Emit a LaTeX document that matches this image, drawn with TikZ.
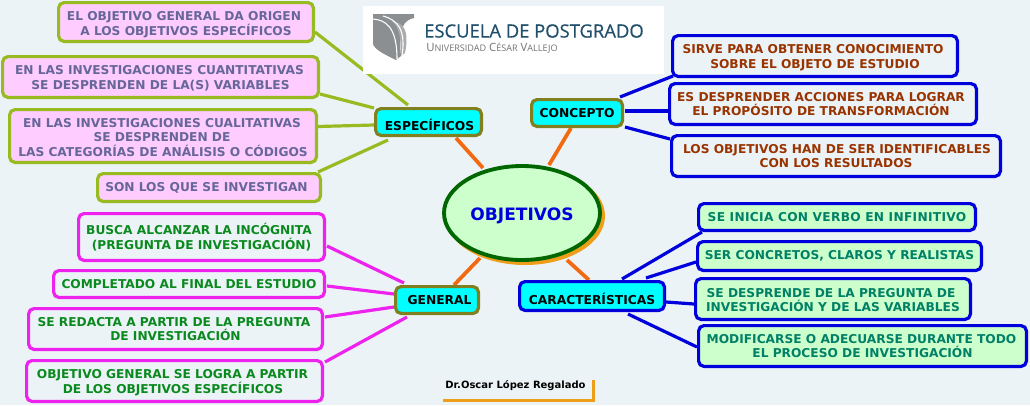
\documentclass[tikz,border=0pt]{standalone}
\usepackage{fontspec}
\setmainfont{DejaVu Sans}
\newfontfamily\logofont[FakeBold=0.5]{Open Sans}
\newfontfamily\logosub{Open Sans}
\usetikzlibrary{calc,shapes.geometric,backgrounds}
\definecolor{bgc}{HTML}{ECF3F6}
\definecolor{pinkf}{HTML}{FFCCFF}
\definecolor{limeb}{HTML}{99BB22}
\definecolor{purpt}{HTML}{666699}
\definecolor{blueb}{HTML}{0000DD}
\definecolor{brownt}{HTML}{993300}
\definecolor{greent}{HTML}{0A8A1E}
\definecolor{tealt}{HTML}{008066}
\definecolor{mintf}{HTML}{CCFFCC}
\definecolor{magb}{HTML}{EE22EE}
\definecolor{oliveb}{HTML}{808020}
\definecolor{hubc}{HTML}{00FFFF}
\definecolor{orangel}{HTML}{F26A10}
\definecolor{shadowo}{HTML}{EE9F1A}
\definecolor{darkg}{HTML}{006600}
\definecolor{logot}{HTML}{1F4F6A}
\definecolor{logog}{HTML}{8C8F92}
% shifts the line that follows by #1 px along x
\newcommand\shiftline[1]{\hspace*{\dimexpr #1pt*3/2\relax}}
% lowers the whole text of a node by #1 px (first line only)
\newcommand\downby[1]{\rule{0pt}{\dimexpr 6.7pt + #1pt*3/2\relax}}
\tikzset{
  wh/.style 2 args={minimum width=#1*0.75pt-2.4pt, minimum height=#2*0.75pt-2.4pt},
  leaf/.style={draw, line width=2.4pt, rounded corners=4pt, inner sep=0pt, outer sep=0pt,
    align=center, font=\fontsize{9.15pt}{11pt}\selectfont\bfseries},
  esp/.style={leaf, draw=limeb, fill=pinkf, text=purpt},
  con/.style={leaf, draw=blueb, fill=bgc, text=brownt},
  gen/.style={leaf, draw=magb, fill=bgc, text=greent},
  car/.style={leaf, draw=blueb, fill=mintf, text=tealt},
  hub/.style={leaf, fill=hubc, text=black, draw=oliveb, font=\fontsize{9.2pt}{11pt}\selectfont\bfseries},
  limeline/.style={draw=limeb, line width=2.4pt},
  blueline/.style={draw=blueb, line width=2.4pt},
  magline/.style={draw=magb, line width=2.4pt},
  orline/.style={draw=orangel, line width=2.8pt}
}
\begin{document}
\begin{tikzpicture}[x=0.75pt,y=-0.75pt]
\useasboundingbox (0,0) rectangle (1030,405);
\begin{scope}[on background layer]
  \fill[bgc] (0,0) rectangle (1030,405);
  \fill[shadowo] (525,216) ellipse [x radius=80, y radius=49];
\end{scope}

% centre
\node[ellipse, draw=darkg, fill=mintf, line width=2.9pt, minimum width=156*0.75pt, minimum height=94*0.75pt, inner sep=0pt, outer sep=0pt, text=blueb, font=\fontsize{12.8pt}{14pt}\selectfont\bfseries] (obj) at (522,213) {\rule{0pt}{13.8pt}OBJETIVOS};

% hubs
\node[hub, wh={109}{30}] (hesp) at (428.5,122) {\downby{4}\shiftline{1}ESPECÍFICOS};
\node[hub, wh={94}{30}] (hcon) at (577,113) {CONCEPTO};
\node[hub, wh={86}{30}] (hgen) at (437,300) {\shiftline{2.5}GENERAL};
\node[hub, draw=blueb, wh={148}{32}] (hcar) at (592,296) {\downby{4}CARACTERÍSTICAS};

% especificos
\node[esp, wh={258}{42}] (e1) at (186,22) {\downby{2.5}\shiftline{-2}EL OBJETIVO GENERAL DA ORIGEN\\A LOS OBJETIVOS ESPECÍFICOS};
\node[esp, wh={319}{44}] (e2) at (160.5,77) {\downby{1}\shiftline{-1}EN LAS INVESTIGACIONES CUANTITATIVAS\\SE DESPRENDEN DE LA(S) VARIABLES};
\node[esp, wh={310}{56}] (e3) at (163,136) {\downby{1.5}\shiftline{-1}EN LAS INVESTIGACIONES CUALITATIVAS\\\shiftline{-1}SE DESPRENDEN DE\\LAS CATEGORÍAS DE ANÁLISIS O CÓDIGOS};
\node[esp, wh={226}{31}] (e4) at (209,187.5) {\shiftline{-2.5}SON LOS QUE SE INVESTIGAN};

% concepto
\node[con, wh={288}{44}] (c1) at (815,56) {\downby{2}\shiftline{-2}SIRVE PARA OBTENER CONOCIMIENTO\\SOBRE EL OBJETO DE ESTUDIO};
\node[con, wh={310}{44}] (c2) at (823,104) {\shiftline{-2}ES DESPRENDER ACCIONES PARA LOGRAR\\\shiftline{-2}EL PROPÓSITO DE TRANSFORMACIÓN};
\node[con, wh={332}{44}] (c3) at (836,156) {\shiftline{1}LOS OBJETIVOS HAN DE SER IDENTIFICABLES\\CON LOS RESULTADOS};

% general
\node[gen, wh={249}{50}] (g1) at (201.5,237) {\downby{1}\shiftline{-2.5}BUSCA ALCANZAR LA INCÓGNITA\\(PREGUNTA DE INVESTIGACIÓN)};
\node[gen, wh={274}{30}] (g2) at (189,284) {COMPLETADO AL FINAL DEL ESTUDIO};
\node[gen, wh={297}{44}] (g3) at (175.5,329) {\shiftline{-1.5}SE REDACTA A PARTIR DE LA PREGUNTA\\DE INVESTIGACIÓN};
\node[gen, wh={299}{44}] (g4) at (174.5,381) {\downby{1.5}\shiftline{-2}OBJETIVO GENERAL SE LOGRA A PARTIR\\\shiftline{-1.5}DE LOS OBJETIVOS ESPECÍFICOS};

% caracteristicas
\node[car, wh={280}{30}] (r1) at (837,217) {\addfontfeature{LetterSpace=2.5}SE INICIA CON VERBO EN INFINITIVO};
\node[car, wh={287}{32}] (r2) at (839.5,256) {SER CONCRETOS, CLAROS Y REALISTAS};
\node[car, wh={278}{44}] (r3) at (833,299) {\downby{1}\shiftline{-2}SE DESPRENDE DE LA PREGUNTA DE\\INVESTIGACIÓN Y DE LAS VARIABLES};
\node[car, wh={331}{44}] (r4) at (862.5,346) {\shiftline{-1}MODIFICARSE O ADECUARSE DURANTE TODO\\EL PROCESO DE INVESTIGACIÓN};

% logo
\node[fill=white, minimum width=301*0.75pt, minimum height=68*0.75pt, inner sep=0pt, outer sep=0pt] (logo) at (513.5,40) {};
\fill[logog] (373,14) -- (414,14) -- (414,18) .. controls (404,20) and (398,28) .. (401,56) -- (396,60) .. controls (384,54) and (375,50) .. (373,44) -- cycle;
\fill[logog!75] (392,21) .. controls (405,23) and (409,32) .. (405,53) -- (401,56) .. controls (401,40) and (400,28) .. (392,21) -- cycle;
\draw[white, line width=0.8pt] (373,19) .. controls (385,20) and (397,26) .. (397,59);
\draw[white, line width=0.8pt] (383,16) .. controls (398,20) and (406,30) .. (402,56);
\node[inner sep=0pt, text=logot, anchor=west, font=\logofont\fontsize{13.8pt}{18pt}\selectfont] (ltitle) at (424,31) {ESCUELA DE POSTGRADO};
\node[inner sep=0pt, text=black!55, anchor=west, font=\logosub\fontsize{8.5pt}{8pt}\selectfont] (lsub) at (426,48) {U{\fontsize{6.8pt}{8pt}\selectfont NIVERSIDAD} C{\fontsize{6.8pt}{8pt}\selectfont ÉSAR} V{\fontsize{6.8pt}{8pt}\selectfont ALLEJO}};

% author
\node[inner sep=0pt, text=black, font=\fontsize{7.5pt}{9pt}\selectfont\bfseries] (auth) at (515.5,386) {Dr.Oscar López Regalado};
\coordinate (autha) at (593.5,380);
\coordinate (authb) at (593.5,400.5);
\coordinate (authc) at (443,400.5);
\draw[shadowo, line width=1.8pt] (autha) -- (authb) -- (authc);

\begin{scope}[on background layer]
  \draw[orline] ($(hesp)+(27.5,16)$) -- ($(obj)+(-39,-45)$);
  \draw[orline] ($(hcon)+(-6,15)$) -- ($(obj)+(27,-48)$);
  \draw[orline] ($(hgen)+(17,-15)$) -- ($(obj)+(-42,45)$);
  \draw[orline] ($(hcar)+(-3,-16)$) -- ($(obj)+(45,47)$);

  \draw[limeline] ($(hesp)+(-20.5,-17)$) -- ($(e1)+(129,10)$);
  \draw[limeline] ($(hesp)+(-54.5,-14)$) -- ($(e2)+(159.5,17)$);
  \draw[limeline] ($(hesp)+(-54.5,3)$) -- ($(e3)+(155,-9.5)$);
  \draw[limeline] ($(hesp)+(-40.5,18)$) -- ($(e4)+(109,-15.5)$);

  \draw[blueline] ($(hcon)+(43,-16)$) -- ($(c1)+(-142,20)$);
  \draw[blueline] ($(hcon)+(48,-2)$) -- ($(c2)+(-155,7)$);
  \draw[blueline] ($(hcon)+(48,14)$) -- ($(c3)+(-166,-17)$);

  \draw[magline] ($(hgen)+(-33,-17)$) -- ($(g1)+(125.5,9)$);
  \draw[magline] ($(hgen)+(-43,-6)$) -- ($(g2)+(138,2)$);
  \draw[magline] ($(hgen)+(-43,7)$) -- ($(g3)+(149.5,-12)$);
  \draw[magline] ($(hgen)+(-30,17)$) -- ($(g4)+(150.5,-19)$);

  \draw[blueline] ($(hcar)+(30,-17)$) -- ($(r1)+(-135,15)$);
  \draw[blueline] ($(hcar)+(54,-18)$) -- ($(r2)+(-143.5,6)$);
  \draw[blueline] ($(hcar)+(74,6)$) -- ($(r3)+(-139,5)$);
  \draw[blueline] ($(hcar)+(36,18)$) -- ($(r4)+(-165.5,1)$);
\end{scope}
\end{tikzpicture}
\end{document}
